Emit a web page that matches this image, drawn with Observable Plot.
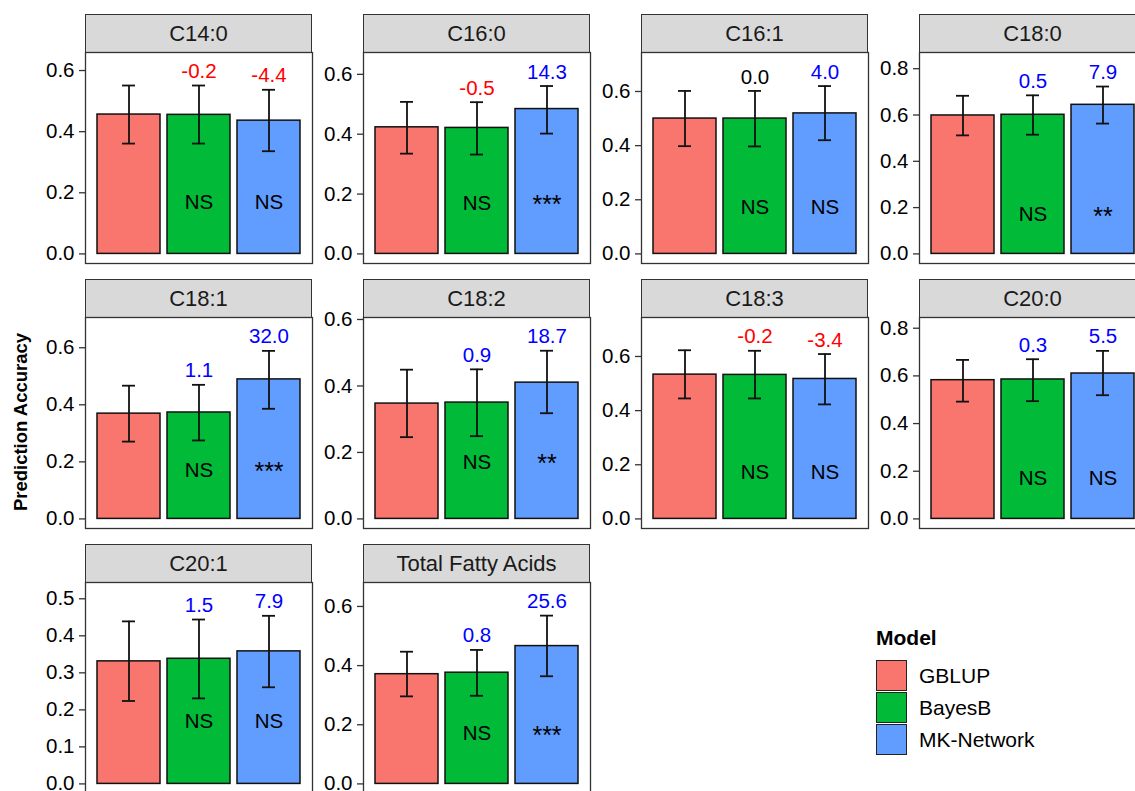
<!DOCTYPE html>
<html>
<head>
<meta charset="utf-8">
<script src="https://cdn.jsdelivr.net/npm/d3@7"></script>
<script src="https://cdn.jsdelivr.net/npm/@observablehq/plot@0.6"></script>
<style>
  html, body { margin: 0; padding: 0; background: white; }
  #chart { position: relative; width: 1135px; height: 791px; overflow: hidden; background: white;
           font-family: "Liberation Sans", Arial, Helvetica, sans-serif; color: black; }
  .strip { position: absolute; box-sizing: border-box; background: #D9D9D9; border: 1.3px solid #333;
           display: flex; align-items: center; justify-content: center; font-size: 22px; color: #1a1a1a; }
  .panel { position: absolute; }
  .legend-title { position: absolute; font-weight: bold; font-size: 21px; }
  .key { position: absolute; box-sizing: border-box; border: 1.6px solid #222; }
  .key-label { position: absolute; font-size: 21px; line-height: 24px; }
  .ytitle { position: absolute; font-weight: bold; font-size: 18.5px; white-space: nowrap;
            transform: translate(-50%, -50%) rotate(-90deg); }
</style>
</head>
<body>
<div id="chart"></div>
<script>
// ---------- data ----------
const traits = ["C14:0", "C16:0", "C16:1", "C18:0", "C18:1", "C18:2", "C18:3", "C20:0", "C20:1", "Total Fatty Acids"];
const models = ["GBLUP", "BayesB", "MK-Network"];
const modelColors = ["#F8766D", "#00BA38", "#619CFF"];

const gblupMean = [0.456, 0.423, 0.500, 0.598, 0.369, 0.347, 0.533, 0.582, 0.331, 0.371];
const gblupLo   = [0.361, 0.335, 0.398, 0.512, 0.271, 0.246, 0.445, 0.492, 0.224, 0.296];
const gblupHi   = [0.551, 0.508, 0.602, 0.683, 0.467, 0.449, 0.623, 0.667, 0.439, 0.447];

const bayesMean = [0.455, 0.421, 0.500, 0.601, 0.373, 0.350, 0.532, 0.585, 0.338, 0.376];
const bayesLo   = [0.361, 0.332, 0.397, 0.515, 0.275, 0.249, 0.445, 0.494, 0.231, 0.298];
const bayesHi   = [0.551, 0.507, 0.602, 0.685, 0.470, 0.450, 0.621, 0.670, 0.444, 0.453];

const mkMean    = [0.436, 0.484, 0.519, 0.644, 0.489, 0.410, 0.517, 0.610, 0.358, 0.466];
const mkLo      = [0.336, 0.402, 0.420, 0.563, 0.386, 0.318, 0.423, 0.519, 0.261, 0.364];
const mkHi      = [0.537, 0.561, 0.620, 0.723, 0.589, 0.506, 0.609, 0.705, 0.454, 0.569];

// % change vs GBLUP
const bayesGain = [-0.2, -0.5, 0.0, 0.5, 1.1, 0.9, -0.2, 0.3, 1.5, 0.8];
const mkGain    = [-4.4, 14.3, 4.0, 7.9, 32.0, 18.7, -3.4, 5.5, 7.9, 25.6];

// significance vs GBLUP
const bayesSig = ["NS", "NS", "NS", "NS", "NS", "NS", "NS", "NS", "NS", "NS"];
const mkSig    = ["NS", "***", "NS", "**", "***", "**", "NS", "NS", "NS", "***"];

// axis (free y per panel)
const yTop     = [0.659, 0.673, 0.744, 0.870, 0.706, 0.606, 0.744, 0.845, 0.544, 0.681];
const tickStep = [0.2, 0.2, 0.2, 0.2, 0.2, 0.2, 0.2, 0.2, 0.1, 0.2];
const sigLabelY = 0.17;
const yTitle = "Prediction Accuracy";
const legendTitle = "Model";

// ---------- layout ----------
const FONT = '"Liberation Sans", Arial, Helvetica, sans-serif';
const colLeft = [85, 363, 641, 919];
const panelTop = [52, 317, 582];
const PW = 227, PH = 211, STRIP = 38;
const ML = 50, MR = 2, MT = 2, MB = 2;

const chart = document.getElementById("chart");

traits.forEach((trait, i) => {
  const r = Math.floor(i / 4), c = i % 4;
  const left = colLeft[c], top = panelTop[r];

  const rows = [
    {model: models[0], mean: gblupMean[i], lo: gblupLo[i], hi: gblupHi[i], gain: null, sig: null},
    {model: models[1], mean: bayesMean[i], lo: bayesLo[i], hi: bayesHi[i], gain: bayesGain[i], sig: bayesSig[i]},
    {model: models[2], mean: mkMean[i], lo: mkLo[i], hi: mkHi[i], gain: mkGain[i], sig: mkSig[i]}
  ];

  const strip = document.createElement("div");
  strip.className = "strip";
  strip.style.left = left + "px";
  strip.style.top = (top - STRIP) + "px";
  strip.style.width = PW + "px";
  strip.style.height = (STRIP + 1) + "px";
  strip.textContent = trait;
  chart.appendChild(strip);

  const top_ = yTop[i];
  const ticks = d3.range(0, top_ + 1e-9, tickStep[i]);
  const gainGroups = [
    {test: v => v < 0, color: "#FF0000"},
    {test: v => v > 0, color: "#0000FF"},
    {test: v => v === 0, color: "#000000"}
  ];
  const nsRows = rows.filter(d => d.sig === "NS");
  const starRows = rows.filter(d => d.sig && d.sig !== "NS");

  const plot = Plot.plot({
    width: ML + PW + MR,
    height: MT + PH + MB,
    marginLeft: ML, marginRight: MR, marginTop: MT, marginBottom: MB,
    style: {background: "transparent", fontFamily: FONT, fontSize: "20px", overflow: "visible"},
    x: {domain: models, paddingInner: 0.1, paddingOuter: 0.15, axis: null},
    y: {domain: [-top_ * 0.05 / 1.05, top_], axis: null},
    color: {domain: models, range: modelColors},
    marks: [
      Plot.barY(rows, {x: "model", y: "mean", fill: "model", stroke: "#111", strokeWidth: 1.5}),
      Plot.ruleX(rows, {x: "model", y1: "lo", y2: "hi", stroke: "#111", strokeWidth: 1.8}),
      Plot.tickY(rows, {x: "model", y: "lo", insetLeft: 25, insetRight: 25, stroke: "#111", strokeWidth: 1.8}),
      Plot.tickY(rows, {x: "model", y: "hi", insetLeft: 25, insetRight: 25, stroke: "#111", strokeWidth: 1.8}),
      ...gainGroups.map(g => Plot.text(rows.filter(d => d.gain !== null && g.test(d.gain)), {
        x: "model", y: "hi", text: d => d.gain.toFixed(1), fill: g.color, dy: -14, fontSize: 20.5
      })),
      Plot.text(nsRows, {x: "model", y: () => sigLabelY, text: "sig", fill: "black", fontSize: 20.5}),
      Plot.text(starRows, {x: "model", y: () => sigLabelY, text: "sig", fill: "black", fontSize: 25, dy: 2}),
      Plot.axisY({ticks, tickFormat: d3.format(".1f"), tickSize: 6, tickPadding: 5, stroke: "#333",
                  strokeWidth: 1.3, fill: "black", fontSize: 20.5, label: null}),
      Plot.frame({stroke: "#333", strokeWidth: 1.3})
    ]
  });
  plot.classList.add("panel");
  plot.style.left = (left - ML) + "px";
  plot.style.top = (top - MT) + "px";
  chart.appendChild(plot);
});

// y-axis title
const yt = document.createElement("div");
yt.className = "ytitle";
yt.style.left = "20.5px";
yt.style.top = "422px";
yt.textContent = yTitle;
chart.appendChild(yt);

// legend
const lt = document.createElement("div");
lt.className = "legend-title";
lt.style.left = "876px";
lt.style.top = "626px";
lt.textContent = legendTitle;
chart.appendChild(lt);

models.forEach((m, k) => {
  const ky = 660 + k * 32;
  const key = document.createElement("div");
  key.className = "key";
  key.style.left = "876px";
  key.style.top = ky + "px";
  key.style.width = "31px";
  key.style.height = "31px";
  key.style.background = modelColors[k];
  chart.appendChild(key);
  const lab = document.createElement("div");
  lab.className = "key-label";
  lab.style.left = "919px";
  lab.style.top = (ky + 15.5 - 12) + "px";
  lab.textContent = m;
  chart.appendChild(lab);
});
</script>
</body>
</html>
